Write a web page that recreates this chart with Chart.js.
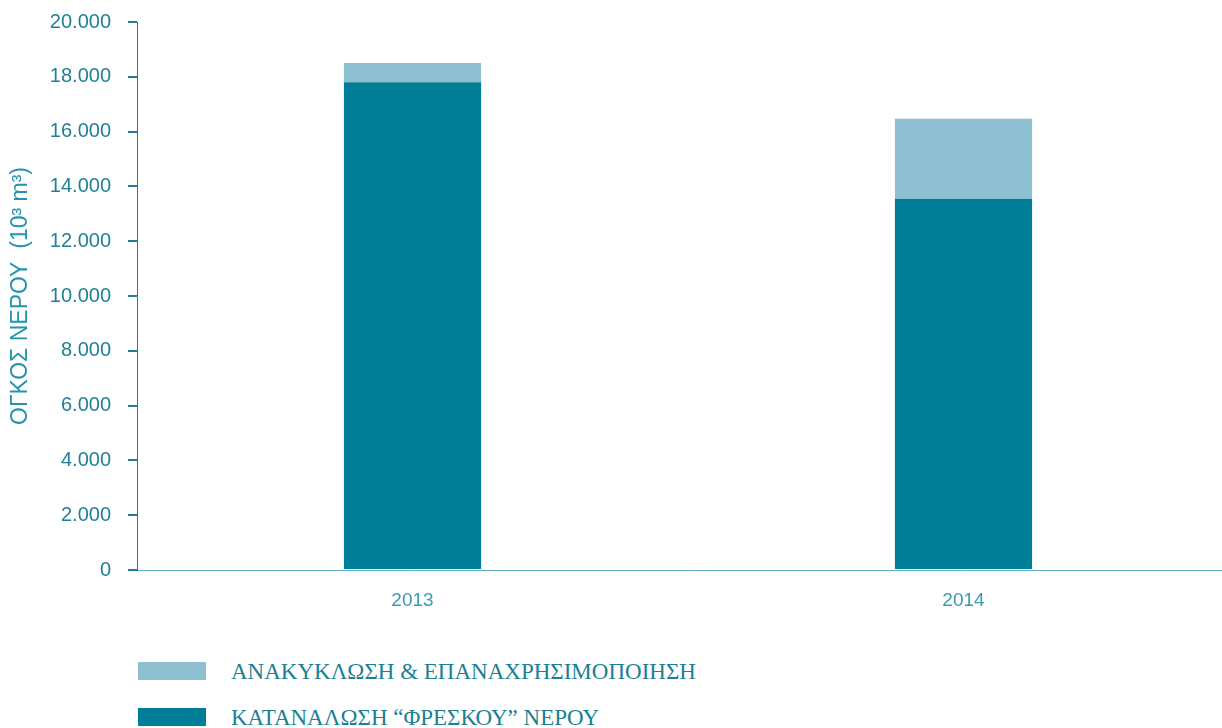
<!DOCTYPE html>
<html lang="el">
<head>
<meta charset="utf-8">
<title>Όγκος νερού 2013-2014</title>
<script src="https://cdn.jsdelivr.net/npm/chart.js@4"></script>
<style>
  html, body { margin: 0; padding: 0; background: #fff; overflow: hidden; }
  #wrap { position: relative; width: 1222px; height: 728px; overflow: hidden; }
  #chart { position: absolute; left: 0; top: -7px; }
  .legend-item { position: absolute; left: 138px; height: 18px; }
  .legend-item .box { position: absolute; left: 0; top: 0; width: 68px; height: 18px; }
  .legend-item .txt {
    position: absolute; left: 93px; top: -4px; white-space: nowrap;
    font-family: "Liberation Serif", "DejaVu Serif", serif; font-size: 23px;
    color: #1b7f95; line-height: 28px;
  }
</style>
</head>
<body>
<div id="wrap">
  <canvas id="chart" width="1240" height="620"></canvas>
  <div id="legend"></div>
</div>
<script>
// years on the x axis
const years = ['2013', '2014'];
// fresh water consumption, 10^3 m3
const freshWater = [17800, 13550];
// recycled & reused water, 10^3 m3
const recycled = [700, 2920];

const freshLabel = 'ΚΑΤΑΝΑΛΩΣΗ “ΦΡΕΣΚΟΥ” ΝΕΡΟΥ';
const recycledLabel = 'ΑΝΑΚΥΚΛΩΣΗ & ΕΠΑΝΑΧΡΗΣΙΜΟΠΟΙΗΣΗ';
const yTitle = 'ΟΓΚΟΣ ΝΕΡΟΥ  (10³ m³)';

const darkTeal = '#007e97';
const lightBlue = '#8ec0d1';
const axisTeal = '#1f8096';

// 20000 -> "20.000"
function formatThousands(v) {
    return String(v).replace(/\B(?=(\d{3})+(?!\d))/g, '.');
}

const ctx = document.getElementById('chart').getContext('2d');
const chart = new Chart(ctx, {
    type: 'bar',
    data: {
        labels: years,
        datasets: [
            { label: freshLabel, data: freshWater, backgroundColor: darkTeal },
            { label: recycledLabel, data: recycled, backgroundColor: lightBlue }
        ]
    },
    options: {
        responsive: false,
        animation: false,
        barPercentage: 0.249,
        categoryPercentage: 1,
        layout: { padding: { top: 12, right: 1, left: 0, bottom: 0 } },
        plugins: {
            legend: { display: false },
            tooltip: { enabled: false }
        },
        scales: {
            x: {
                stacked: true,
                grid: { display: false },
                border: { display: true, color: '#62b2c4', width: 1 },
                ticks: {
                    color: '#3a9bb0',
                    padding: 11,
                    font: { family: 'Liberation Sans, Arial, sans-serif', size: 19 }
                },
                afterFit: scale => { scale.height = 43; }
            },
            y: {
                stacked: true,
                min: 0,
                max: 20000,
                ticks: {
                    stepSize: 2000,
                    color: axisTeal,
                    padding: 17,
                    font: { family: 'Liberation Sans, Arial, sans-serif', size: 20 },
                    callback: v => formatThousands(v)
                },
                grid: { drawOnChartArea: false, drawTicks: true, tickLength: 9, color: axisTeal, lineWidth: 2 },
                border: { display: true, color: axisTeal, width: 1 },
                title: {
                    display: true,
                    text: yTitle,
                    color: '#2493ad',
                    padding: { top: 7, bottom: 0 },
                    font: { family: 'Liberation Sans, Arial, sans-serif', size: 23 }
                },
                afterFit: scale => { scale.width = 137; }
            }
        }
    }
});

// legend below the chart, top row is the upper stack segment
const legend = document.getElementById('legend');
[chart.data.datasets[1], chart.data.datasets[0]].forEach((ds, i) => {
    const item = document.createElement('div');
    item.className = 'legend-item';
    item.style.top = (662 + i * 46) + 'px';
    const box = document.createElement('div');
    box.className = 'box';
    box.style.background = ds.backgroundColor;
    const txt = document.createElement('div');
    txt.className = 'txt';
    txt.textContent = ds.label;
    item.appendChild(box);
    item.appendChild(txt);
    legend.appendChild(item);
});
</script>
</body>
</html>
